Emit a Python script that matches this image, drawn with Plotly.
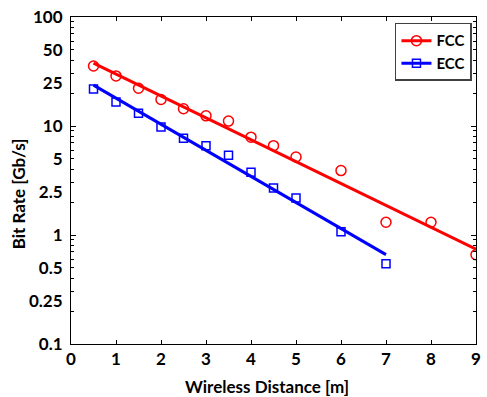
import plotly.graph_objects as go

# Data
fcc_x = [0.5, 1.0, 1.5, 2.0, 2.5, 3.0, 3.5, 4.0, 4.5, 5.0, 6.0, 7.0, 8.0, 9.0]
fcc_y = [35.5, 28.8, 22.2, 17.5, 14.4, 12.4, 11.1, 7.9, 6.6, 5.2, 3.9, 1.31, 1.31, 0.66]
ecc_x = [0.5, 1.0, 1.5, 2.0, 2.5, 3.0, 3.5, 4.0, 4.5, 5.0, 6.0, 7.0]
ecc_y = [21.8, 16.6, 13.1, 9.8, 7.7, 6.6, 5.4, 3.76, 2.7, 2.19, 1.07, 0.546]

fcc_fit_x = [0.5, 9.0]
fcc_fit_y = [37.8, 0.74]
ecc_fit_x = [0.5, 7.0]
ecc_fit_y = [23.7, 0.66]

y_tick_vals = [0.1, 0.25, 0.5, 1, 2.5, 5, 10, 25, 50, 100]
y_tick_text = ["0.1", "0.25", "0.5", "1", "2.5", "5", "10", "25", "50", "100"]
x_tick_vals = list(range(0, 10))

RED = "#ff0000"
BLUE = "#0000ff"
FONT = "Lato"

fig = go.Figure()

# fit lines
fig.add_trace(go.Scatter(x=fcc_fit_x, y=fcc_fit_y, mode="lines",
                         line=dict(color=RED, width=3), showlegend=False))
fig.add_trace(go.Scatter(x=ecc_fit_x, y=ecc_fit_y, mode="lines",
                         line=dict(color=BLUE, width=3), showlegend=False))
# data markers
fig.add_trace(go.Scatter(x=fcc_x, y=fcc_y, mode="markers",
                         marker=dict(symbol="circle-open", size=10, color=RED,
                                     line=dict(width=1.5, color=RED)),
                         showlegend=False))
fig.add_trace(go.Scatter(x=ecc_x, y=ecc_y, mode="markers",
                         marker=dict(symbol="square-open", size=8, color=BLUE,
                                     line=dict(width=1.5, color=BLUE)),
                         showlegend=False))
# legend entries
fig.add_trace(go.Scatter(x=[None], y=[None], mode="lines+markers", name="FCC",
                         line=dict(color=RED, width=3),
                         marker=dict(symbol="circle-open", size=10, color=RED,
                                     line=dict(width=1.5, color=RED))))
fig.add_trace(go.Scatter(x=[None], y=[None], mode="lines+markers", name="ECC",
                         line=dict(color=BLUE, width=3),
                         marker=dict(symbol="square-open", size=8, color=BLUE,
                                     line=dict(width=1.5, color=BLUE))))

# invisible trace on overlay axis for tick marks
fig.add_trace(go.Scatter(x=[None], y=[None], yaxis="y2", showlegend=False))

decades = [0.1, 1, 10, 100]
minor_vals = [m * d for d in [0.1, 1, 10] for m in range(2, 10)]

fig.update_layout(
    width=487, height=397,
    margin=dict(l=71, r=6, t=15, b=53),
    paper_bgcolor="white", plot_bgcolor="white",
    font=dict(family=FONT, color="black"),
    xaxis=dict(range=[0, 9], tickvals=x_tick_vals, ticks="inside", ticklen=4,
               tickcolor="black", showline=True, linecolor="black", linewidth=1,
               mirror="ticks", showgrid=False, zeroline=False,
               tickfont=dict(family=FONT, size=17, weight="bold", color="black")),
    yaxis=dict(type="log", range=[-1, 2], tickvals=y_tick_vals, ticktext=y_tick_text,
               ticks="", showline=True, linecolor="black", linewidth=1,
               mirror=True, showgrid=False, zeroline=False, ticklabelstandoff=4,
               tickfont=dict(family=FONT, size=17, weight="bold", color="black")),
    yaxis2=dict(type="log", range=[-1, 2], overlaying="y", side="left",
                tickvals=decades, ticks="inside", ticklen=5, tickcolor="black",
                showticklabels=False, showgrid=False, zeroline=False,
                showline=False, mirror="ticks",
                minor=dict(tickvals=minor_vals, ticks="inside", ticklen=3,
                           tickcolor="black", showgrid=False)),
    legend=dict(x=0.99, y=0.982, xanchor="right", yanchor="top",
                bgcolor="white", bordercolor="#404040", borderwidth=1.5,
                font=dict(family=FONT, size=15, weight="bold", color="black"),
                itemwidth=30, tracegroupgap=0),
    annotations=[
        dict(text="Bit Rate [Gb/s]", xref="paper", yref="paper", x=-0.129, y=0.46,
             xanchor="center", yanchor="middle", textangle=-90, showarrow=False,
             font=dict(family=FONT, size=17, weight="bold", color="black")),
        dict(text="Wireless Distance [m]", xref="paper", yref="paper", x=0.483, y=-0.13,
             xanchor="center", yanchor="middle", showarrow=False,
             font=dict(family=FONT, size=17, weight="bold", color="black")),
    ],
)

fig.write_html("out.html", config={"displayModeBar": False},
               post_script="document.body.style.margin='0';document.body.style.padding='0';")
